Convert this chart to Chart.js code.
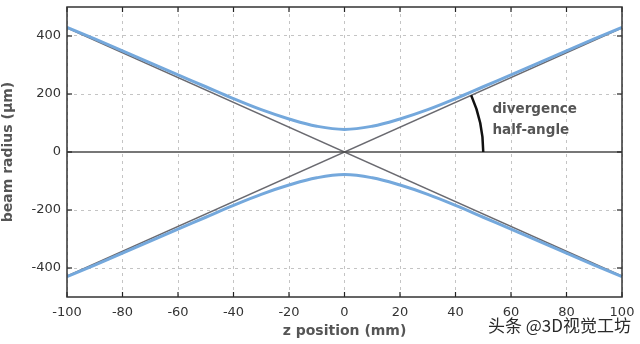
<!DOCTYPE html>
<html><head><meta charset="utf-8">
<script src="https://cdn.jsdelivr.net/npm/chart.js@4/dist/chart.umd.min.js"></script>
<style>html,body{margin:0;padding:0;background:#fff}#wrap{width:640px;height:344px;position:relative}</style>
</head><body><div id="wrap"><canvas id="c" width="640" height="344"></canvas></div>
<script>
const zPositions = [-100,-90,-80,-70,-60,-50,-40,-30,-20,-10,0,10,20,30,40,50,60,70,80,90,100];
const beamUpper = [430,390,349,307,266,225,184,146,114,89,78,89,114,146,184,225,266,307,349,390,430];
const beamLower = [-430,-390,-349,-307,-266,-225,-184,-146,-114,-89,-78,-89,-114,-146,-184,-225,-266,-307,-349,-390,-430];
const asymZ = [-100, 100];
const asymRising = [-428, 428];
const asymFalling = [428, -428];
const zeroZ = [-100, 100];
const zeroVals = [0, 0];
const xTicks = [-100,-80,-60,-40,-20,0,20,40,60,80,100];
const yTicks = [-400,-200,0,200,400];
const annotationText = ['divergence', 'half-angle'];

const pts = (xs, ys) => xs.map((x,i)=>({x, y: ys[i]}));

const overlay = {
  id: 'overlay',
  afterDatasetsDraw(chart) {
    const {ctx, chartArea: a, scales: {x, y}} = chart;
    ctx.save();
    ctx.strokeStyle = '#222'; ctx.lineWidth = 1.2;
    xTicks.forEach(v => {
      const px = x.getPixelForValue(v);
      ctx.beginPath(); ctx.moveTo(px, a.bottom); ctx.lineTo(px, a.bottom - 5); ctx.stroke();
      ctx.beginPath(); ctx.moveTo(px, a.top); ctx.lineTo(px, a.top + 5); ctx.stroke();
    });
    yTicks.forEach(v => {
      const py = y.getPixelForValue(v);
      ctx.beginPath(); ctx.moveTo(a.left, py); ctx.lineTo(a.left + 5, py); ctx.stroke();
      ctx.beginPath(); ctx.moveTo(a.right, py); ctx.lineTo(a.right - 5, py); ctx.stroke();
    });
    ctx.strokeStyle = '#333'; ctx.lineWidth = 1.5;
    ctx.strokeRect(a.left, a.top, a.right - a.left, a.bottom - a.top);
    const ox = x.getPixelForValue(0), oy = y.getPixelForValue(0);
    const r = x.getPixelForValue(50) - ox;
    const ex = x.getPixelForValue(100) - ox, ey = y.getPixelForValue(asymRising[1]) - oy;
    const ang = Math.atan2(ey, ex);
    ctx.strokeStyle = '#111'; ctx.lineWidth = 2.5;
    ctx.beginPath(); ctx.arc(ox, oy, r, ang, 0); ctx.stroke();
    ctx.fillStyle = '#555';
    ctx.font = 'bold 13.5px "DejaVu Sans", sans-serif';
    ctx.textAlign = 'left'; ctx.textBaseline = 'middle';
    const tx = x.getPixelForValue(53.3);
    ctx.fillText(annotationText[0], tx, y.getPixelForValue(145));
    ctx.fillText(annotationText[1], tx, y.getPixelForValue(73));
    ctx.restore();
    ctx.save();
    ctx.fillStyle = '#2a2a2a';
    ctx.font = '17px "Noto Sans CJK SC", sans-serif';
    ctx.textAlign = 'right'; ctx.textBaseline = 'middle';
    ctx.fillText('头条 @3D视觉工坊', 631, 326);
    ctx.restore();
  }
};

new Chart(document.getElementById('c'), {
  type: 'line',
  data: {
    datasets: [
      {data: pts(zeroZ, zeroVals), borderColor: '#4a4a4a', borderWidth: 1.5, pointRadius: 0},
      {data: pts(zPositions, beamUpper), borderColor: '#74a8dc', borderWidth: 3, pointRadius: 0, tension: 0.4},
      {data: pts(zPositions, beamLower), borderColor: '#74a8dc', borderWidth: 3, pointRadius: 0, tension: 0.4},
      {data: pts(asymZ, asymRising), borderColor: '#6a6a70', borderWidth: 1.5, pointRadius: 0},
      {data: pts(asymZ, asymFalling), borderColor: '#6a6a70', borderWidth: 1.5, pointRadius: 0}
    ]
  },
  options: {
    responsive: false, animation: false,
    layout: {padding: {left: 0, right: 18, top: 7, bottom: 0}},
    plugins: {legend: {display: false}, tooltip: {enabled: false}},
    scales: {
      x: {
        type: 'linear', min: -100, max: 100,
        afterBuildTicks: s => { s.ticks = xTicks.map(v => ({value: v})); },
        afterFit: s => { s.height = 47; s.paddingLeft = 0; s.paddingRight = 0; },
        ticks: {color: '#333', font: {size: 13, family: '"DejaVu Sans", sans-serif'}, padding: 8, maxRotation: 0},
        grid: {color: '#c4c4c4', drawTicks: false},
        border: {display: false, dash: [3, 4]},
        title: {display: true, text: 'z position (mm)', color: '#555', font: {size: 14, weight: 'bold', family: '"DejaVu Sans", sans-serif'}, padding: {top: 0, bottom: 4}}
      },
      y: {
        type: 'linear', min: -500, max: 500,
        afterBuildTicks: s => { s.ticks = yTicks.map(v => ({value: v})); },
        afterFit: s => { s.width = 67; s.paddingTop = 0; s.paddingBottom = 0; },
        ticks: {color: '#333', font: {size: 13, family: '"DejaVu Sans", sans-serif'}, padding: 6},
        grid: {color: c => (c.tick && c.tick.value === 0) ? 'rgba(0,0,0,0)' : '#c4c4c4', drawTicks: false},
        border: {display: false, dash: [3, 4]},
        title: {display: true, text: 'beam radius (µm)', color: '#555', font: {size: 14, weight: 'bold', family: '"DejaVu Sans", sans-serif'}, padding: {top: 0, bottom: 4}}
      }
    }
  },
  plugins: [overlay]
});
</script></body></html>
